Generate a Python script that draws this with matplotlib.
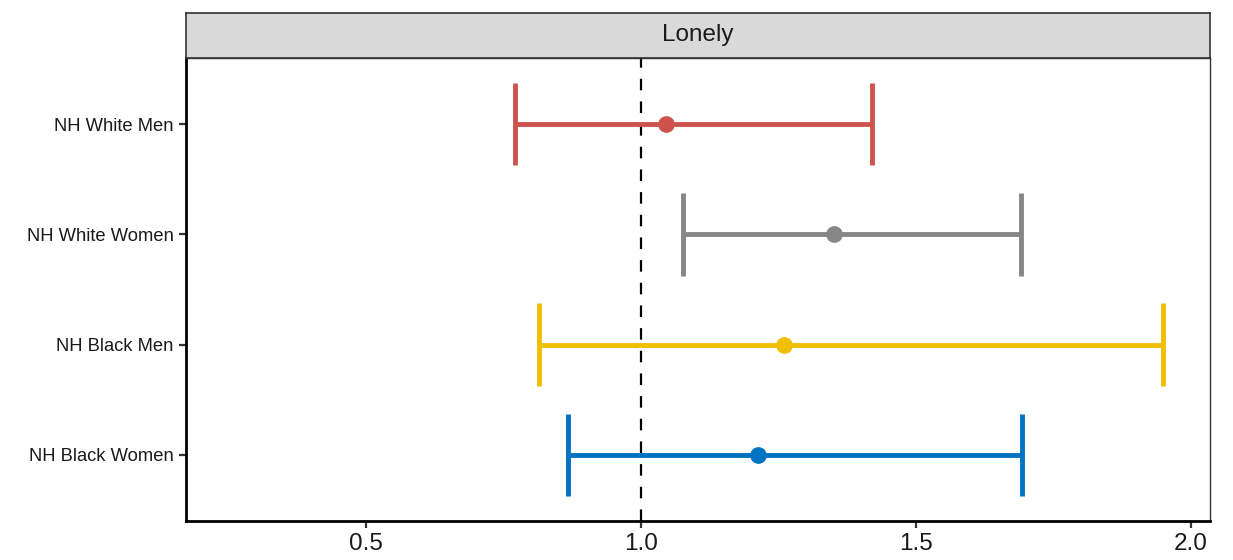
import matplotlib

matplotlib.use("Agg")

import matplotlib.pyplot as plt

plt.rcParams["font.family"] = ["Liberation Sans", "DejaVu Sans"]

# Odds ratios with 95% CI
groups = ["NH White Men", "NH White Women", "NH Black Men", "NH Black Women"]
estimate = [1.045, 1.351, 1.260, 1.213]
lower = [0.772, 1.077, 0.815, 0.868]
upper = [1.420, 1.691, 1.949, 1.694]
colors = ["#CD534C", "#868686", "#EFC000", "#0073C2"]
facet_title = "Lonely"
x_ticks = [0.5, 1.0, 1.5, 2.0]

W, H = 1233, 560
fig = plt.figure(figsize=(W / 100, H / 100), dpi=100)

# panel and strip positions in pixels (left, top, right, bottom)
pl, pt, pr, pb = 186, 58, 1210, 521
st = 13
ax = fig.add_axes([pl / W, 1 - pb / H, (pr - pl) / W, (pb - pt) / H])
strip = fig.add_axes([pl / W, 1 - pt / H, (pr - pl) / W, (pt - st) / H])

ypos = list(range(len(groups), 0, -1))
cap = 0.375
for y, est, lo, hi, c in zip(ypos, estimate, lower, upper, colors):
    ax.hlines(y, lo, hi, color=c, linewidth=3.5, zorder=3)
    ax.vlines([lo, hi], y - cap, y + cap, color=c, linewidth=3.5, zorder=3)
    ax.plot(est, y, "o", color=c, markersize=11, zorder=4)

ax.axvline(1.0, color="black", linestyle=(0, (5.2, 5.0)), linewidth=1.6, zorder=2)

ax.set_xlim(0.173, 2.035)
ax.set_ylim(0.4, len(groups) + 0.6)
ax.set_yticks(ypos)
ax.set_yticklabels(groups, fontsize=13.2, color="#1a1a1a")
ax.set_xticks(x_ticks)
ax.set_xticklabels([f"{t:.1f}" for t in x_ticks], fontsize=17.5, color="#1a1a1a")
ax.tick_params(axis="both", length=5, width=1.6, color="#333333", pad=4)

for side in ("left", "bottom"):
    ax.spines[side].set_linewidth(2)
    ax.spines[side].set_color("black")
for side in ("top", "right"):
    ax.spines[side].set_linewidth(1)
    ax.spines[side].set_color("#333333")

strip.set_facecolor("#D9D9D9")
strip.set_xticks([])
strip.set_yticks([])
for s in strip.spines.values():
    s.set_linewidth(1.2)
    s.set_color("#333333")
strip.text(0.5, 0.5, facet_title, ha="center", va="center", fontsize=17.5,
           color="#1a1a1a", transform=strip.transAxes)

fig.savefig("out.png", dpi=100)
